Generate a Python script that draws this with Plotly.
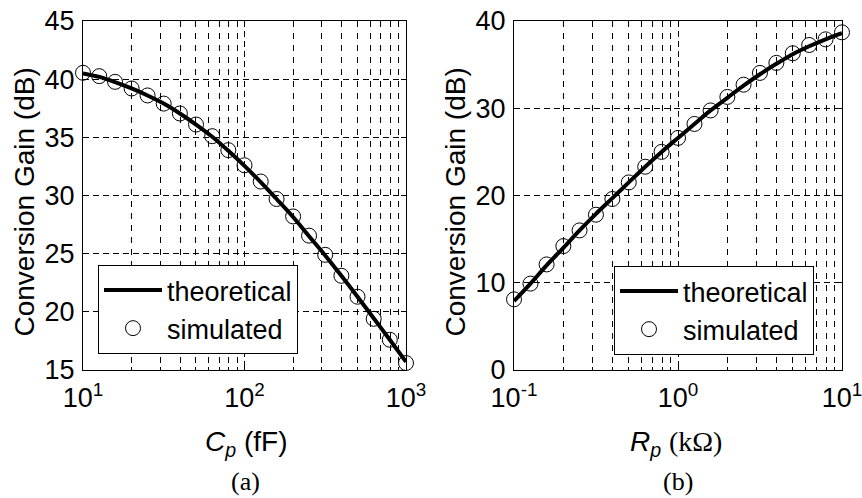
import plotly.graph_objects as go

# ---- data ----
cp_ff = [10, 12.6, 15.8, 20, 25.1, 31.6, 39.8, 50.1, 63.1, 79.4, 100,
         126, 158, 200, 251, 316, 398, 501, 631, 794, 1000]
gain_cp_sim = [40.55, 40.26, 39.77, 39.2, 38.6, 37.9, 37.05, 36.1, 35.1, 33.9, 32.6,
               31.2, 29.7, 28.2, 26.55, 24.9, 23.1, 21.3, 19.4, 17.6, 15.6]
gain_cp_theo = [40.5, 40.2, 39.75, 39.2, 38.6, 37.9, 37.05, 36.1, 35.05, 33.85, 32.55,
                31.15, 29.7, 28.15, 26.5, 24.85, 23.1, 21.3, 19.45, 17.6, 15.7]

rp_kohm = [0.1, 0.126, 0.158, 0.2, 0.251, 0.316, 0.398, 0.501, 0.631, 0.794, 1.0,
           1.26, 1.58, 2.0, 2.51, 3.16, 3.98, 5.01, 6.31, 7.94, 10]
gain_rp_sim = [8.1, 9.9, 12.1, 14.2, 16.0, 17.8, 19.6, 21.5, 23.3, 25.0, 26.6,
               28.2, 29.75, 31.3, 32.7, 34.05, 35.2, 36.3, 37.25, 37.9, 38.7]
gain_rp_theo = [7.9, 9.9, 12.0, 14.0, 16.0, 17.9, 19.7, 21.5, 23.3, 25.0, 26.6,
                28.2, 29.75, 31.2, 32.6, 33.9, 35.1, 36.2, 37.1, 37.9, 38.6]

y_ticks_a = [15, 20, 25, 30, 35, 40, 45]
y_ticks_b = [0, 10, 20, 30, 40]
x_ticks_a = [10, 100, 1000]
x_ticktext_a = ["10<sup>1</sup>", "10<sup>2</sup>", "10<sup>3</sup>"]
x_ticks_b = [0.1, 1, 10]
x_ticktext_b = ["10<sup>-1</sup>", "10<sup>0</sup>", "10<sup>1</sup>"]

SANS = "Liberation Sans, Arial, sans-serif"
SERIF = "Liberation Serif, Times New Roman, serif"

def minor_vals(decades):
    return [m * 10 ** d for d in decades for m in range(2, 10)]

fig = go.Figure()

fig.add_trace(go.Scatter(x=cp_ff, y=gain_cp_theo, mode="lines", name="theoretical",
                         line=dict(color="black", width=4, shape="spline"),
                         xaxis="x", yaxis="y", legend="legend", cliponaxis=False))
fig.add_trace(go.Scatter(x=cp_ff, y=gain_cp_sim, mode="markers", name="simulated",
                         marker=dict(symbol="circle-open", size=15, color="black",
                                     line=dict(width=1, color="black")),
                         xaxis="x", yaxis="y", legend="legend", cliponaxis=False))
fig.add_trace(go.Scatter(x=rp_kohm, y=gain_rp_theo, mode="lines", name="theoretical",
                         line=dict(color="black", width=4, shape="spline"),
                         xaxis="x2", yaxis="y2", legend="legend2", cliponaxis=False))
fig.add_trace(go.Scatter(x=rp_kohm, y=gain_rp_sim, mode="markers", name="simulated",
                         marker=dict(symbol="circle-open", size=15, color="black",
                                     line=dict(width=1, color="black")),
                         xaxis="x2", yaxis="y2", legend="legend2", cliponaxis=False))

W, H = 862, 498
ydom = [1 - 370 / H, 1 - 21 / H]

grid_common = dict(showgrid=True, gridcolor="black", gridwidth=0.8, griddash="6px,4px",
                   showline=True, linecolor="black", linewidth=1, mirror="ticks",
                   ticks="inside", ticklen=5, tickcolor="black", zeroline=False,
                   automargin=False, ticklabeloverflow="allow",
                   tickfont=dict(family=SANS, size=27, color="black"))

def xaxis(dom, rng, tv, tt, decades, anchor):
    return dict(type="log", domain=dom, range=rng, tickmode="array", tickvals=tv,
                ticktext=tt, anchor=anchor, ticklabelstandoff=4,
                minor=dict(tickmode="array", tickvals=minor_vals(decades), ticks="inside",
                           ticklen=3, tickcolor="black", showgrid=True, gridcolor="black",
                           gridwidth=0.8, griddash="6px,6px"),
                **grid_common)

fig.update_layout(
    width=W, height=H, margin=dict(l=0, r=0, t=0, b=0, autoexpand=False),
    paper_bgcolor="white", plot_bgcolor="white", showlegend=True,
    xaxis=xaxis([83 / W, 406 / W], [1, 3], x_ticks_a, x_ticktext_a, [1, 2], "y"),
    xaxis2=xaxis([514 / W, 842 / W], [-1, 1], x_ticks_b, x_ticktext_b, [-1, 0], "y2"),
    yaxis=dict(domain=ydom, range=[15, 45], tickmode="array", tickvals=y_ticks_a,
               anchor="x", ticklabelstandoff=2, **grid_common),
    yaxis2=dict(domain=ydom, range=[0, 40], tickmode="array", tickvals=y_ticks_b,
                anchor="x2", ticklabelstandoff=2, **grid_common),
    legend=dict(x=98 / W, y=1 - 265 / H, xanchor="left", yanchor="top",
                bgcolor="white", bordercolor="black", borderwidth=1, itemwidth=58,
                font=dict(family=SANS, size=27, color="black"), tracegroupgap=0),
    legend2=dict(x=614 / W, y=1 - 266 / H, xanchor="left", yanchor="top",
                 bgcolor="white", bordercolor="black", borderwidth=1, itemwidth=58,
                 font=dict(family=SANS, size=27, color="black"), tracegroupgap=0),
)

ytitle = "Conversion Gain (dB)"
ann = [
    dict(text=ytitle, x=24.5 / W, y=1 - 202 / H, textangle=-90),
    dict(text=ytitle, x=455.5 / W, y=1 - 202 / H, textangle=-90),
    dict(text="<i>C</i><sub><i>p</i></sub> (fF)", x=246 / W, y=1 - 443 / H),
    dict(text="<i>R</i><sub><i>p</i></sub> <span style=\"font-family:Liberation Serif\">(k\u03a9)</span>",
         x=676 / W, y=1 - 443 / H),
]
for a in ann:
    fig.add_annotation(xref="paper", yref="paper", showarrow=False,
                       xanchor="center", yanchor="middle",
                       font=dict(family=SANS, size=28, color="black"), **a)
for txt, cx in [("(a)", 245), ("(b)", 678)]:
    fig.add_annotation(text=txt, xref="paper", yref="paper", x=cx / W, y=1 - 481 / H,
                       showarrow=False, xanchor="center", yanchor="middle",
                       font=dict(family=SERIF, size=26, color="black"))

fig.write_html("out.html", config={"displayModeBar": False},
               post_script="document.body.style.margin='0';")
